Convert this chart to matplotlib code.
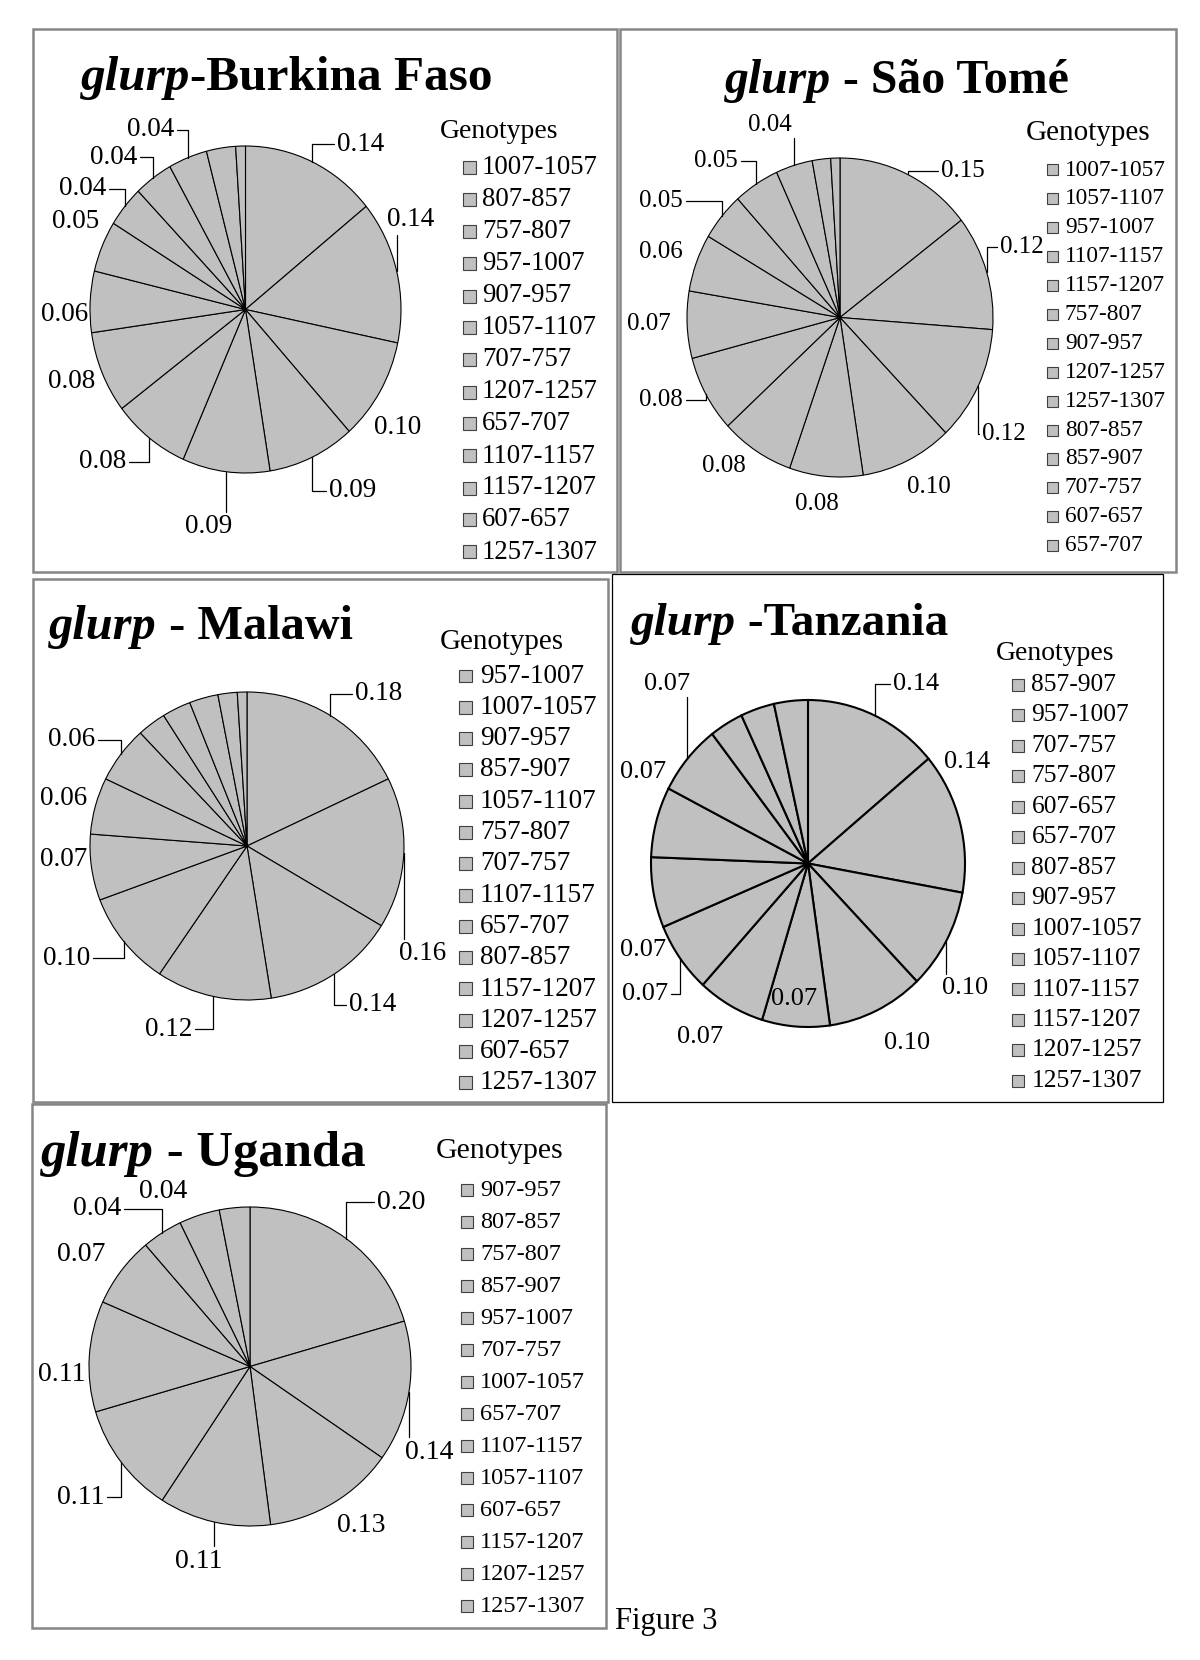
import matplotlib
matplotlib.use('Agg')
import matplotlib.pyplot as plt
from matplotlib.patches import Rectangle
import numpy as np

plt.rcParams['font.family'] = ['Liberation Serif', 'DejaVu Serif']

W, H = 1200, 1660

# === genotype frequencies (clockwise from 12 o'clock) ===
bf_values = [0.14, 0.14, 0.10, 0.09, 0.09, 0.08, 0.08, 0.06, 0.05, 0.04, 0.04, 0.04, 0.03, 0.01]
st_values = [0.15, 0.12, 0.12, 0.10, 0.08, 0.08, 0.08, 0.07, 0.06, 0.05, 0.05, 0.04, 0.02, 0.01]
mw_values = [0.18, 0.16, 0.14, 0.12, 0.10, 0.07, 0.06, 0.06, 0.03, 0.03, 0.03, 0.02, 0.01]
tz_values = [0.14, 0.14, 0.10, 0.10, 0.07, 0.07, 0.07, 0.07, 0.07, 0.07, 0.035, 0.035, 0.035]
ug_values = [0.20, 0.14, 0.13, 0.11, 0.11, 0.11, 0.07, 0.04, 0.04, 0.03]

# === legend entries ===
bf_genotypes = ['1007-1057', '807-857', '757-807', '957-1007', '907-957', '1057-1107', '707-757',
                '1207-1257', '657-707', '1107-1157', '1157-1207', '607-657', '1257-1307']
st_genotypes = ['1007-1057', '1057-1107', '957-1007', '1107-1157', '1157-1207', '757-807', '907-957',
                '1207-1257', '1257-1307', '807-857', '857-907', '707-757', '607-657', '657-707']
mw_genotypes = ['957-1007', '1007-1057', '907-957', '857-907', '1057-1107', '757-807', '707-757',
                '1107-1157', '657-707', '807-857', '1157-1207', '1207-1257', '607-657', '1257-1307']
tz_genotypes = ['857-907', '957-1007', '707-757', '757-807', '607-657', '657-707', '807-857',
                '907-957', '1007-1057', '1057-1107', '1107-1157', '1157-1207', '1207-1257', '1257-1307']
ug_genotypes = ['907-957', '807-857', '757-807', '857-907', '957-1007', '707-757', '1007-1057',
                '657-707', '1107-1157', '1057-1107', '607-657', '1157-1207', '1207-1257', '1257-1307']

# === data label placement (pie radius units) and whether a leader line is drawn ===
bf_label_xy = [(0.74, 1.01), (1.06, 0.55), (0.98, -0.72), (0.69, -1.11), (-0.24, -1.33), (-0.92, -0.93),
               (-1.12, -0.44), (-1.16, -0.03), (-1.09, 0.54), (-1.05, 0.74), (-0.85, 0.93), (-0.61, 1.10)]
bf_leaders = [1, 1, 0, 1, 1, 1, 0, 0, 0, 1, 1, 1]
st_label_xy = [(0.80, 0.92), (1.19, 0.44), (1.07, -0.73), (0.58, -1.06), (-0.15, -1.17), (-0.76, -0.93),
               (-1.17, -0.52), (-1.25, -0.04), (-1.17, 0.41), (-1.17, 0.73), (-0.81, 0.98), (-0.46, 1.21)]
st_leaders = [1, 1, 1, 0, 0, 0, 1, 0, 0, 1, 1, 1]
mw_label_xy = [(0.84, 0.99), (1.12, -0.70), (0.80, -1.03), (-0.50, -1.19), (-1.15, -0.73), (-1.17, -0.09),
               (-1.17, 0.31), (-1.12, 0.69)]
mw_leaders = [1, 1, 1, 1, 1, 0, 0, 1]
tz_label_xy = [(0.69, 1.10), (1.01, 0.62), (1.00, -0.76), (0.63, -1.10), (-0.09, -0.83), (-0.69, -1.06),
               (-1.04, -0.80), (-1.05, -0.53), (-1.05, 0.56), (-0.90, 1.10)]
tz_leaders = [1, 0, 1, 0, 0, 0, 1, 0, 0, 1]
ug_label_xy = [(0.94, 1.03), (1.11, -0.54), (0.69, -1.00), (-0.32, -1.22), (-1.05, -0.82), (-1.17, -0.05),
               (-1.05, 0.70), (-0.95, 0.99), (-0.54, 1.10)]
ug_leaders = [1, 1, 0, 1, 1, 0, 0, 1, 0]

# === panel layout, in pixels of the 1200x1660 page ===
panels = [
    dict(values=bf_values, genotypes=bf_genotypes, label_xy=bf_label_xy, leaders=bf_leaders,
         box=(33, 29, 617, 572), box_color='#868686', box_lw=1.8, pie=(90, 146, 401, 473), wedge_lw=0.8,
         title=('glurp', '-Burkina Faso'), title_xy=(81, 90), title_size=35.5, label_size=19.5,
         leg_title=(440, 132, 20), leg=(463, 19, 168, 32, 19.3, 13)),
    dict(values=st_values, genotypes=st_genotypes, label_xy=st_label_xy, leaders=st_leaders,
         box=(620, 29, 1176, 572), box_color='#868686', box_lw=1.8, pie=(687, 158, 993, 477), wedge_lw=0.8,
         title=('glurp', ' - São Tomé'), title_xy=(725, 93), title_size=34.4, label_size=18,
         leg_title=(1026, 133, 21), leg=(1047, 18, 170, 28.9, 16.8, 11)),
    dict(values=mw_values, genotypes=mw_genotypes, label_xy=mw_label_xy, leaders=mw_leaders,
         box=(33, 579, 608, 1102), box_color='#868686', box_lw=1.8, pie=(90, 692, 404, 1000), wedge_lw=0.8,
         title=('glurp', ' - Malawi'), title_xy=(49, 639), title_size=34.8, label_size=19.5,
         leg_title=(440, 642, 20.9), leg=(459, 21, 676, 31.3, 19.6, 13)),
    dict(values=tz_values, genotypes=tz_genotypes, label_xy=tz_label_xy, leaders=tz_leaders,
         box=(612, 574, 1163, 1102), box_color='black', box_lw=0.9, pie=(651, 700, 965, 1027), wedge_lw=1.5,
         title=('glurp', ' -Tanzania'), title_xy=(631, 635), title_size=34, label_size=19,
         leg_title=(996, 653, 20), leg=(1012, 19.5, 685, 30.45, 18.4, 12)),
    dict(values=ug_values, genotypes=ug_genotypes, label_xy=ug_label_xy, leaders=ug_leaders,
         box=(32, 1104, 606, 1628), box_color='#868686', box_lw=1.8, pie=(89, 1207, 411, 1526), wedge_lw=0.8,
         title=('glurp', ' - Uganda'), title_xy=(41, 1166), title_size=36.5, label_size=20,
         leg_title=(436, 1151, 21.5), leg=(461, 19, 1190, 32, 17.5, 12)),
]

fill = '#c0c0c0'

fig = plt.figure(figsize=(W / 100, H / 100), dpi=100)
renderer = fig.canvas.get_renderer()


def fig_rect(x0, y0, x1, y1):
    return [x0 / W, 1 - y1 / H, (x1 - x0) / W, (y1 - y0) / H]


for p in panels:
    # frame around each panel
    bx = fig_rect(*p['box'])
    fig.add_artist(Rectangle((bx[0], bx[1]), bx[2], bx[3], transform=fig.transFigure, fill=False,
                             edgecolor=p['box_color'], lw=p['box_lw']))

    # pie
    ax = fig.add_axes(fig_rect(*p['pie']))
    wedges, _ = ax.pie(p['values'], startangle=90, counterclock=False, colors=[fill] * len(p['values']),
                       wedgeprops=dict(edgecolor='black', linewidth=p['wedge_lw'], clip_on=False))
    ax.set_aspect('auto')
    ax.set_xlim(-1, 1)
    ax.set_ylim(-1, 1)
    ax.axis('off')

    # data labels with Excel-style elbow leaders
    for w, v, (lx, ly), lead in zip(wedges, p['values'], p['label_xy'], p['leaders']):
        mid = np.deg2rad((w.theta1 + w.theta2) / 2)
        edge = (np.cos(mid), np.sin(mid))
        arrow = None
        if lead:
            arrow = dict(arrowstyle='-', connectionstyle='angle,angleA=0,angleB=90,rad=0',
                         shrinkA=0, shrinkB=0, lw=0.9, color='black')
        ax.annotate(f'{v:.2f}', xy=edge, xytext=(lx, ly), textcoords='data', ha='center', va='center',
                    fontsize=p['label_size'], arrowprops=arrow, annotation_clip=False)

    # title: italic gene name + bold country
    tx, ty = p['title_xy']
    t1 = fig.text(tx / W, 1 - ty / H, p['title'][0], fontsize=p['title_size'], fontweight='bold',
                  fontstyle='italic', va='baseline')
    bb = t1.get_window_extent(renderer)
    fig.text(bb.x1 / W, 1 - ty / H, p['title'][1], fontsize=p['title_size'], fontweight='bold', va='baseline')

    # legend
    lt_x, lt_y, lt_size = p['leg_title']
    fig.text(lt_x / W, 1 - lt_y / H, 'Genotypes', fontsize=lt_size, va='center')
    lx0, gap, ly0, dy, lsize, sq = p['leg']
    for i, g in enumerate(p['genotypes']):
        y = ly0 + i * dy
        fig.add_artist(Rectangle((lx0 / W, 1 - (y + sq / 2) / H), sq / W, sq / H, transform=fig.transFigure,
                                 facecolor=fill, edgecolor='#404040', lw=0.8))
        fig.text((lx0 + gap) / W, 1 - y / H, g, fontsize=lsize, va='center')

fig.text(615 / W, 1 - 1629 / H, 'Figure 3', fontsize=22, va='baseline')

fig.savefig('out.png', dpi=100)
